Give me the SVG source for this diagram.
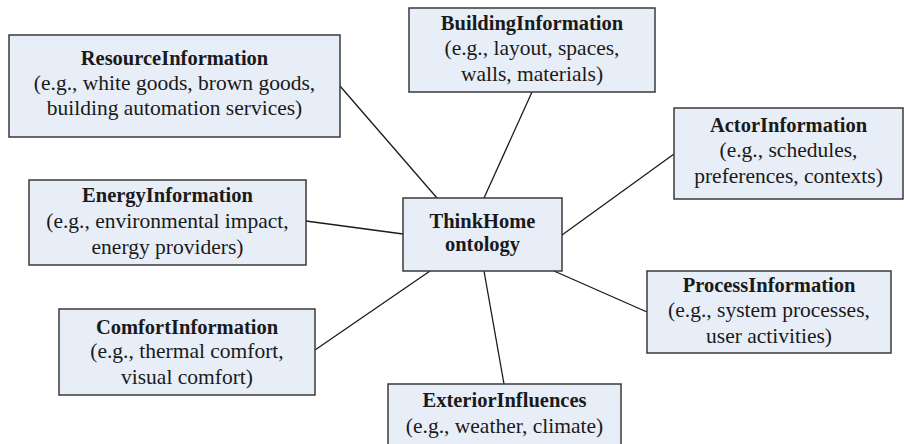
<svg xmlns="http://www.w3.org/2000/svg" width="904" height="444" viewBox="0 0 904 444">
<style>
.box{fill:#e8eef7;stroke:#3a3a3a;stroke-width:1.5}
text{font-family:'Liberation Serif','DejaVu Serif',serif;font-size:21.5px;fill:#1a1a1a;text-anchor:middle}
.t{font-weight:bold;font-size:20.5px}
.edge{stroke:#1a1a1a;stroke-width:1.3;fill:none}
</style>
<rect width="904" height="444" fill="#ffffff"/>
<g id="connectors">
<line class="edge" x1="340" y1="86" x2="437" y2="198"/>
<line class="edge" x1="532" y1="92" x2="484" y2="198"/>
<line class="edge" x1="674" y1="154" x2="562" y2="235"/>
<line class="edge" x1="306" y1="221" x2="403" y2="234"/>
<line class="edge" x1="315" y1="350" x2="430" y2="271"/>
<line class="edge" x1="484" y1="271" x2="504" y2="384"/>
<line class="edge" x1="554" y1="271" x2="647" y2="312"/>
</g>
<g id="resource">
<rect class="box" x="9" y="35" width="331" height="102"/>
<text class="t" x="174.5" y="65">ResourceInformation</text>
<text x="174.5" y="90">(e.g., white goods, brown goods,</text>
<text x="174.5" y="115">building automation services)</text>
</g>
<g id="building">
<rect class="box" x="409" y="8" width="246" height="84"/>
<text class="t" x="532" y="30">BuildingInformation</text>
<text x="532" y="55">(e.g., layout, spaces,</text>
<text x="532" y="81">walls, materials)</text>
</g>
<g id="actor">
<rect class="box" x="674" y="108" width="229" height="91"/>
<text class="t" x="788.5" y="132">ActorInformation</text>
<text x="788.5" y="157">(e.g., schedules,</text>
<text x="788.5" y="183">preferences, contexts)</text>
</g>
<g id="energy">
<rect class="box" x="29" y="180" width="277" height="85"/>
<text class="t" x="167.5" y="202">EnergyInformation</text>
<text x="167.5" y="228">(e.g., environmental impact,</text>
<text x="167.5" y="254">energy providers)</text>
</g>
<g id="thinkhome">
<rect class="box" x="403" y="198" width="159" height="73"/>
<text class="t" x="482.5" y="228">ThinkHome</text>
<text class="t" x="482.5" y="251">ontology</text>
</g>
<g id="comfort">
<rect class="box" x="59" y="309" width="256" height="86"/>
<text class="t" x="187" y="334">ComfortInformation</text>
<text x="187" y="358">(e.g., thermal comfort,</text>
<text x="187" y="384">visual comfort)</text>
</g>
<g id="process">
<rect class="box" x="647" y="271" width="244" height="82"/>
<text class="t" x="769" y="292">ProcessInformation</text>
<text x="769" y="317">(e.g., system processes,</text>
<text x="769" y="343">user activities)</text>
</g>
<g id="exterior">
<rect class="box" x="388" y="384" width="233" height="64"/>
<text class="t" x="504.5" y="407">ExteriorInfluences</text>
<text x="504.5" y="433">(e.g., weather, climate)</text>
</g>
</svg>
